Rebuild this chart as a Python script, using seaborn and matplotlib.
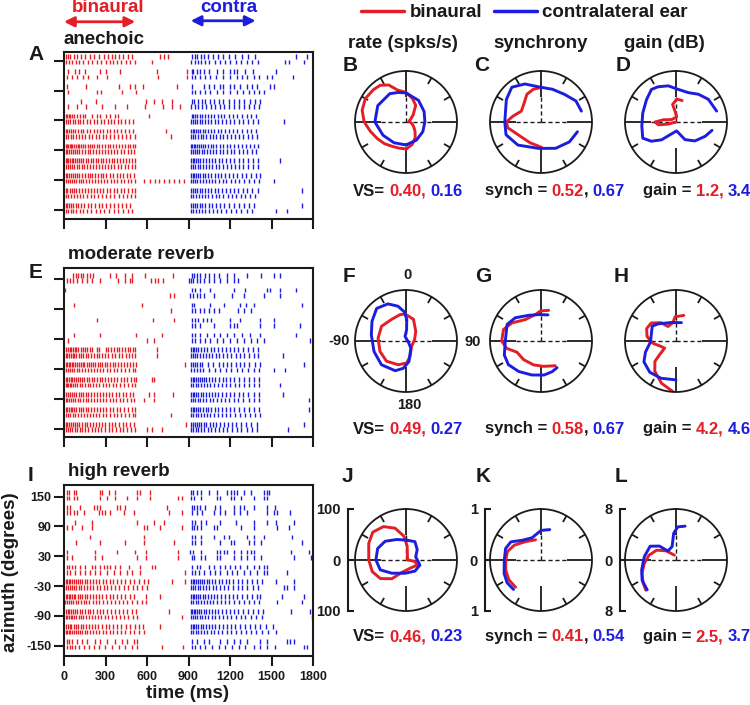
import numpy as np
import pandas as pd
import matplotlib
matplotlib.use("Agg")
import matplotlib.pyplot as plt
from matplotlib.lines import Line2D
from matplotlib.offsetbox import TextArea, HPacker, AnnotationBbox
import seaborn as sns

RED = "#e41e26"
BLUE = "#1d1de0"

AZIMUTHS = [150, 120, 90, 60, 30, 0, -30, -60, -90, -120, -150]
AZ_TICKS = [150, 90, 30, -30, -90, -150]
TIME_TICKS = [0, 300, 600, 900, 1200, 1500, 1800]

# spike times (ms); two trials per azimuth, top row first
ANE_BIN = [
    [15, 30, 45, 70, 95, 120, 150, 185, 220, 255, 290, 320, 345, 370, 400, 430, 460, 490, 695, 720, 750],
    [15, 35, 60, 85, 110, 140, 170, 200, 235, 265, 300, 330, 355, 385, 415, 445, 480, 510, 635],
    [31, 80, 109, 152, 261, 304, 405, 671, 888],
    [19, 55, 92, 135, 176, 236, 309, 676, 890],
    [19, 159, 400, 478, 514, 569, 816],
    [31, 236, 268, 417, 521],
    [123, 232, 591, 652, 712, 779],
    [27, 92, 159, 273, 369, 454, 586, 719, 779, 840],
    [15, 25, 35, 45, 60, 75, 95, 115, 135, 155, 200, 236, 261, 304, 333, 369, 393, 618],
    [15, 28, 45, 62, 80, 100, 118, 140, 165, 190, 215, 240, 265, 290, 315, 340, 365, 390, 415, 440, 470, 500],
    [15, 25, 38, 50, 65, 80, 100, 120, 140, 165, 190, 215, 240, 260, 285, 310, 335, 360, 385, 410, 440, 470, 500, 736],
    [15, 30, 48, 65, 85, 105, 130, 155, 180, 205, 230, 255, 280, 305, 330, 360, 390, 420, 450, 480, 510, 772],
    [15, 22, 30, 40, 50, 60, 72, 85, 98, 110, 125, 140, 155, 170, 185, 200, 220, 240, 255, 275, 295, 315, 335, 355, 375, 395, 420, 440, 460, 480, 500, 515],
    [15, 25, 35, 48, 62, 78, 95, 112, 130, 150, 170, 190, 210, 230, 250, 272, 295, 318, 340, 362, 385, 410, 435, 460, 485, 505],
    [15, 22, 32, 42, 55, 68, 82, 96, 110, 125, 140, 158, 175, 192, 210, 228, 246, 265, 285, 305, 325, 345, 365, 385, 405, 428, 450, 472, 495, 515],
    [15, 28, 42, 58, 75, 92, 110, 128, 148, 168, 188, 208, 228, 250, 272, 295, 318, 340, 365, 390, 415, 440, 465, 490, 512],
    [15, 25, 38, 52, 66, 80, 96, 112, 130, 150, 170, 188, 205, 225, 245, 265, 285, 305, 330, 355, 380, 405, 430, 455, 480, 505],
    [15, 28, 42, 56, 72, 88, 105, 122, 140, 160, 180, 200, 222, 244, 266, 290, 314, 338, 362, 386, 410, 435, 460, 485, 510, 580, 620, 655, 690, 725, 760, 795, 830, 865],
    [15, 25, 40, 55, 72, 90, 110, 130, 150, 172, 195, 218, 240, 262, 285, 310, 335, 360, 385, 410, 435, 460, 490, 515],
    [15, 32, 50, 70, 92, 115, 140, 165, 192, 220, 248, 276, 305, 335, 365, 395, 425, 455, 485, 510],
    [15, 25, 38, 52, 68, 85, 104, 124, 145, 170, 195, 222, 250, 278, 306, 334, 362, 390, 420, 450, 480],
    [15, 30, 48, 68, 90, 114, 140, 168, 198, 228, 260, 292, 325, 358, 390, 425, 460, 495],
]
ANE_CON = [
    [925, 945, 965, 990, 1015, 1040, 1075, 1110, 1150, 1190, 1235, 1290, 1330, 1380, 1680, 1757],
    [920, 945, 970, 990, 1020, 1050, 1090, 1125, 1165, 1200, 1240, 1280, 1320, 1360, 1400, 1600, 1630, 1735],
    [924, 936, 960, 985, 1009, 1045, 1105, 1153, 1202, 1226, 1250, 1310, 1363, 1535],
    [924, 948, 985, 1021, 1057, 1100, 1149, 1202, 1250, 1286, 1322, 1371, 1407, 1467, 1503, 1655],
    [924, 1009, 1045, 1081, 1129, 1153, 1202, 1226, 1274, 1322, 1358, 1395, 1486, 1515],
    [924, 948, 985, 1021, 1057, 1105, 1153, 1202, 1250, 1293, 1334, 1371, 1407, 1443],
    [924, 941, 972, 997, 1021, 1052, 1081, 1117, 1149, 1190, 1226, 1262, 1298, 1346, 1383, 1414],
    [920, 945, 970, 1000, 1025, 1060, 1090, 1125, 1160, 1195, 1230, 1265, 1300, 1340, 1375, 1410],
    [924, 935, 950, 965, 985, 1000, 1020, 1040, 1060, 1085, 1110, 1135, 1160, 1190, 1220, 1250, 1290, 1320, 1350, 1390],
    [920, 932, 948, 962, 980, 998, 1018, 1040, 1062, 1088, 1115, 1142, 1170, 1200, 1230, 1262, 1295, 1330, 1365, 1400, 1590],
    [920, 930, 942, 955, 970, 985, 1002, 1020, 1040, 1062, 1085, 1110, 1135, 1162, 1190, 1220, 1250, 1285, 1320, 1355, 1390],
    [920, 935, 950, 968, 988, 1008, 1030, 1052, 1075, 1100, 1125, 1150, 1178, 1206, 1235, 1265, 1295, 1328, 1360, 1395],
    [920, 928, 938, 950, 962, 976, 990, 1005, 1022, 1040, 1060, 1080, 1102, 1125, 1150, 1175, 1200, 1228, 1256, 1285, 1315, 1345, 1375, 1405],
    [920, 932, 946, 960, 976, 994, 1012, 1032, 1054, 1076, 1100, 1125, 1150, 1176, 1204, 1232, 1262, 1292, 1324, 1356, 1390],
    [920, 930, 942, 956, 970, 986, 1004, 1024, 1046, 1068, 1092, 1118, 1144, 1172, 1200, 1230, 1262, 1295, 1330, 1365, 1400, 1560],
    [920, 934, 950, 966, 984, 1004, 1025, 1048, 1072, 1096, 1122, 1148, 1176, 1204, 1234, 1264, 1296, 1330, 1365, 1400],
    [920, 930, 942, 955, 970, 986, 1003, 1022, 1042, 1064, 1088, 1112, 1138, 1164, 1192, 1222, 1252, 1284, 1318, 1352, 1390, 1420],
    [920, 934, 948, 964, 982, 1002, 1024, 1046, 1070, 1095, 1120, 1146, 1174, 1204, 1234, 1266, 1300, 1336, 1372, 1408, 1520],
    [920, 932, 946, 962, 980, 1000, 1020, 1042, 1066, 1090, 1115, 1142, 1170, 1198, 1228, 1260, 1292, 1326, 1362, 1400, 1720],
    [920, 936, 954, 974, 996, 1020, 1044, 1070, 1096, 1124, 1152, 1182, 1212, 1244, 1276, 1310, 1345, 1380],
    [920, 932, 946, 962, 980, 1000, 1022, 1046, 1072, 1100, 1130, 1160, 1192, 1226, 1262, 1300, 1340, 1375, 1720],
    [920, 936, 954, 974, 996, 1020, 1046, 1074, 1104, 1136, 1170, 1205, 1242, 1280, 1320, 1360, 1530, 1610],
]

MOD_BIN = [
    [68, 87, 104, 123, 140, 169, 188, 212, 333, 376, 441, 490, 586, 791],
    [19, 43, 68, 96, 128, 164, 200, 261, 393, 441, 478, 490, 627, 659, 683, 719],
    [5],
    [767, 796],
    [72, 562],
    [772],
    [241, 642, 796],
    [],
    [72, 261, 521, 707],
    [31, 598, 652],
    [15, 28, 40, 52, 65, 78, 90, 103, 120, 135, 150, 165, 185, 205, 240, 255, 300, 320, 340, 360, 380, 400, 420, 440, 460, 480, 500, 515, 671],
    [15, 25, 38, 50, 62, 75, 90, 105, 122, 140, 158, 176, 195, 215, 235, 255, 275, 298, 320, 345, 370, 395, 420, 445, 470, 495, 515, 671],
    [15, 24, 34, 45, 56, 68, 80, 93, 106, 120, 134, 148, 163, 178, 194, 210, 226, 243, 260, 278, 296, 314, 333, 352, 372, 392, 412, 433, 455, 477, 500, 518, 876],
    [15, 28, 42, 58, 74, 92, 110, 130, 150, 170, 192, 214, 236, 260, 284, 308, 334, 360, 386, 412, 440, 468, 496, 516],
    [15, 25, 36, 48, 60, 73, 87, 101, 116, 132, 148, 165, 182, 200, 218, 237, 257, 277, 298, 319, 341, 363, 386, 410, 434, 458, 482, 505, 520, 635, 652],
    [15, 22, 30, 40, 52, 65, 80, 96, 113, 131, 150, 170, 190, 211, 233, 256, 279, 303, 328, 353, 379, 405, 432, 460, 488, 512],
    [15, 28, 42, 57, 72, 88, 105, 122, 140, 158, 177, 197, 217, 238, 259, 281, 303, 326, 350, 374, 398, 423, 448, 474, 500, 618, 647, 791],
    [15, 25, 38, 52, 67, 83, 100, 118, 137, 156, 176, 196, 217, 238, 260, 283, 306, 330, 354, 379, 404, 430, 456, 482, 508, 575, 652],
    [15, 24, 35, 47, 60, 74, 89, 105, 122, 140, 158, 177, 197, 218, 239, 261, 284, 307, 331, 356, 381, 407, 434, 461, 488, 512],
    [15, 30, 46, 63, 81, 100, 120, 141, 163, 185, 208, 232, 256, 281, 306, 332, 358, 385, 412, 440, 468, 496, 515, 772],
    [15, 25, 37, 50, 64, 79, 95, 112, 130, 149, 168, 188, 209, 230, 252, 275, 298, 322, 347, 372, 398, 424, 451, 478, 505, 883],
    [15, 28, 43, 59, 76, 94, 113, 133, 154, 176, 199, 222, 246, 271, 296, 322, 348, 375, 402, 430, 458, 486, 510, 598, 635, 707],
]
MOD_CON = [
    [924, 941, 960, 985, 1021, 1045, 1081, 1117, 1178, 1226, 1322, 1423, 1515, 1564],
    [900, 917, 936, 960, 985, 1009, 1045, 1081, 1129, 1178, 1226, 1255],
    [924, 948, 985, 1057, 1226, 1310, 1467, 1491, 1564, 1680],
    [912, 931, 960, 985, 1009, 1081, 1214, 1303, 1443, 1564],
    [924, 941, 1057, 1158, 1274, 1313, 1371, 1720],
    [924, 948, 985, 1013, 1045, 1081, 1117, 1255, 1298, 1351],
    [924, 948, 972, 1004, 1033, 1062, 1202, 1274, 1419, 1520],
    [924, 948, 985, 1081, 1202, 1226, 1250, 1419, 1515, 1708],
    [924, 948, 985, 1033, 1081, 1129, 1178, 1226, 1286, 1346, 1419, 1680],
    [924, 948, 985, 1021, 1057, 1105, 1153, 1202, 1250, 1298, 1351, 1395, 1443, 1781],
    [920, 930, 942, 955, 970, 990, 1010, 1035, 1060, 1085, 1110, 1140, 1170, 1200, 1230, 1260, 1295, 1330, 1365, 1400],
    [920, 934, 948, 964, 982, 1002, 1024, 1048, 1072, 1098, 1124, 1152, 1180, 1210, 1240, 1272, 1304, 1338, 1372, 1405, 1583],
    [920, 935, 948, 962, 980, 1000, 1040, 1080, 1120, 1150, 1180, 1210, 1240, 1270, 1300, 1340, 1380, 1420, 1737],
    [920, 940, 965, 985, 1005, 1050, 1090, 1130, 1170, 1210, 1250, 1290, 1330, 1370, 1410, 1520, 1595],
    [920, 930, 941, 953, 966, 980, 995, 1012, 1030, 1050, 1072, 1095, 1120, 1146, 1174, 1202, 1232, 1264, 1298, 1334, 1372, 1410],
    [920, 936, 953, 971, 991, 1012, 1035, 1059, 1085, 1112, 1140, 1170, 1201, 1233, 1267, 1302, 1338, 1376, 1410, 1560],
    [920, 931, 943, 956, 971, 987, 1005, 1024, 1045, 1067, 1091, 1116, 1143, 1171, 1200, 1231, 1263, 1297, 1333, 1370, 1408, 1583],
    [920, 934, 950, 967, 986, 1006, 1028, 1052, 1077, 1104, 1132, 1162, 1193, 1226, 1260, 1296, 1334, 1373, 1412, 1770],
    [920, 930, 942, 955, 970, 986, 1004, 1023, 1044, 1066, 1090, 1115, 1142, 1170, 1200, 1231, 1264, 1298, 1334, 1372, 1410, 1770],
    [920, 935, 951, 969, 989, 1010, 1033, 1057, 1083, 1110, 1139, 1169, 1201, 1234, 1269, 1305, 1343, 1382, 1418],
    [920, 931, 944, 958, 974, 991, 1010, 1030, 1052, 1075, 1100, 1126, 1154, 1183, 1214, 1246, 1280, 1316, 1353, 1392, 1737],
    [920, 936, 953, 972, 993, 1015, 1039, 1064, 1091, 1119, 1149, 1180, 1213, 1247, 1283, 1320, 1358, 1398, 1617],
]

HIGH_BIN = [
    [22, 34, 70, 89, 263, 275, 323, 371, 528, 547, 625],
    [22, 34, 70, 94, 263, 311, 371, 455, 528, 619, 827, 851],
    [22, 46, 118, 214, 239, 263, 383, 407, 443, 745],
    [22, 46, 70, 94, 142, 251, 275, 299, 335, 431, 504, 757, 853],
    [82, 203, 528, 649, 721],
    [22, 58, 130, 203, 576, 600, 696, 851],
    [186, 576],
    [89, 263, 443, 576, 793],
    [22, 227, 383, 515, 595, 827],
    [22, 58, 227, 275, 528, 595, 827],
    [22, 34, 58, 82, 118, 154, 203, 227, 263, 287, 311, 335, 371, 407, 467, 552, 636, 660],
    [22, 46, 82, 118, 154, 190, 227, 263, 311, 359, 407, 455, 491, 552, 875],
    [15, 24, 34, 45, 57, 70, 84, 99, 115, 132, 150, 169, 189, 210, 232, 255, 279, 304, 330, 357, 385, 414, 444, 474, 505, 540, 575, 610, 780, 876],
    [15, 27, 41, 56, 72, 89, 107, 126, 146, 167, 189, 212, 236, 261, 287, 314, 342, 371, 401, 432, 464, 497, 530, 565, 600],
    [15, 23, 33, 44, 56, 69, 83, 98, 114, 131, 149, 168, 188, 209, 231, 254, 278, 303, 329, 356, 384, 413, 443, 474, 505, 595, 696],
    [10, 22, 36, 51, 67, 84, 102, 121, 141, 162, 184, 207, 231, 256, 282, 309, 337, 366, 396, 427, 459, 492, 525, 565, 590],
    [15, 26, 38, 51, 65, 80, 96, 113, 131, 150, 170, 191, 213, 236, 260, 285, 311, 338, 366, 395, 425, 456, 488, 520, 757],
    [15, 24, 35, 47, 60, 74, 89, 105, 122, 140, 159, 179, 200, 222, 245, 269, 294, 320, 347, 375, 404, 434, 465, 497, 525, 851],
    [15, 27, 40, 54, 69, 85, 102, 120, 139, 159, 180, 202, 225, 249, 274, 300, 327, 355, 384, 414, 445, 477, 510, 540, 570, 696],
    [15, 24, 34, 45, 57, 70, 84, 99, 115, 132, 150, 169, 189, 210, 232, 255, 279, 304, 330, 357, 385, 414, 444, 475, 508, 540, 575],
    [22, 34, 58, 94, 130, 166, 227, 263, 311, 371, 419, 455, 504, 528],
    [22, 40, 58, 82, 106, 142, 178, 214, 251, 299, 347, 395, 443, 491, 528, 706, 863],
]
HIGH_CON = [
    [919, 934, 963, 987, 1047, 1107, 1180, 1204, 1228, 1252, 1300, 1349, 1445, 1469, 1481],
    [919, 938, 987, 1107, 1131, 1204, 1228, 1276, 1373, 1445, 1469],
    [926, 938, 962, 986, 1022, 1094, 1130, 1226, 1275, 1299, 1371, 1468, 1528],
    [926, 962, 998, 1082, 1130, 1166, 1226, 1275, 1323, 1468, 1516, 1540, 1637],
    [926, 950, 987, 1023, 1131, 1240, 1373, 1469, 1529, 1662],
    [926, 938, 963, 987, 1083, 1107, 1276, 1373, 1541, 1626],
    [926, 950, 987, 1083, 1156, 1192, 1324, 1373, 1445, 1650],
    [926, 945, 987, 1131, 1204, 1228, 1337, 1373, 1421, 1722],
    [914, 934, 987, 1107, 1131, 1156, 1180, 1228, 1276, 1324, 1349, 1373, 1638, 1770],
    [926, 938, 987, 1016, 1107, 1131, 1228, 1276, 1324, 1373, 1421, 1662, 1782],
    [926, 962, 986, 1046, 1082, 1130, 1166, 1203, 1239, 1275, 1323, 1371, 1407, 1444, 1468],
    [926, 950, 974, 1010, 1058, 1094, 1130, 1178, 1215, 1251, 1299, 1347, 1395, 1444, 1468, 1612],
    [920, 930, 941, 953, 966, 980, 996, 1013, 1031, 1050, 1071, 1093, 1117, 1142, 1168, 1196, 1225, 1256, 1288, 1322, 1358, 1395, 1430, 1530, 1660],
    [920, 934, 949, 966, 985, 1005, 1027, 1050, 1075, 1101, 1129, 1158, 1189, 1221, 1255, 1290, 1326, 1364, 1400, 1590, 1615, 1660],
    [920, 930, 942, 955, 969, 985, 1002, 1020, 1040, 1061, 1084, 1108, 1134, 1161, 1190, 1220, 1252, 1285, 1320, 1357, 1395, 1420, 1575, 1735],
    [920, 935, 951, 969, 988, 1009, 1031, 1055, 1080, 1107, 1135, 1165, 1196, 1229, 1263, 1299, 1336, 1375, 1410, 1540, 1720],
    [920, 928, 938, 950, 963, 977, 993, 1010, 1028, 1048, 1069, 1092, 1116, 1142, 1169, 1198, 1228, 1260, 1293, 1328, 1364, 1400, 1440, 1640, 1780],
    [920, 933, 948, 964, 982, 1001, 1022, 1044, 1068, 1093, 1120, 1148, 1178, 1209, 1242, 1276, 1312, 1349, 1388, 1428, 1795],
    [920, 930, 942, 956, 971, 988, 1006, 1026, 1047, 1070, 1094, 1120, 1147, 1176, 1206, 1238, 1271, 1306, 1342, 1380, 1420, 1460, 1510],
    [920, 935, 952, 971, 991, 1013, 1036, 1061, 1087, 1115, 1144, 1175, 1207, 1241, 1276, 1313, 1351, 1391, 1432, 1475, 1530],
    [926, 962, 1010, 1046, 1130, 1178, 1226, 1275, 1323, 1420, 1468, 1612, 1637, 1661],
    [926, 950, 986, 1022, 1070, 1118, 1166, 1215, 1263, 1311, 1371, 1420, 1468, 1528, 1733, 1757],
]

# polar tuning curves: azimuth (deg, 0 = up, clockwise) and value, in drawing order
RATE_ANE_BIN_AZ = [-180, -165, -150, -135, -120, -105, -90, -75, -60, -45, -35, -25, -15, 0, 15, 30, 45, 60, 75, 90, 105, 120, 135, 150, 165, 180]
RATE_ANE_BIN = [53, 53, 55, 60, 65, 72, 82, 89, 92, 90, 88, 80, 65, 58, 48, 38, 20, 10, 6, 8, 12, 17, 25, 36, 46, 53]
RATE_ANE_CON_AZ = [-180, -150, -120, -90, -60, -30, -15, 0, 30, 60, 90, 120, 150, 180]
RATE_ANE_CON = [45, 47, 52, 61, 64, 64, 60, 57, 49, 41, 37, 38, 41, 45]
SYNC_ANE_BIN_AZ = [2, -13, -27, -41, -61, -78, -90, -100, -120, -152, -182]
SYNC_ANE_BIN = [0.68, 0.66, 0.61, 0.50, 0.44, 0.56, 0.68, 0.66, 0.51, 0.46, 0.50]
SYNC_ANE_CON_AZ = [75, 59, 40, 19, 0, -23, -40, -57, -90, -110, -135, -175, -209, -235, -255]
SYNC_ANE_CON = [0.82, 0.80, 0.71, 0.68, 0.68, 0.81, 0.89, 0.81, 0.71, 0.73, 0.64, 0.52, 0.59, 0.68, 0.74]
GAIN_ANE_BIN_AZ = [16, 2, -11, -5, 8, -62, -80, -90, -99, -105, 90]
GAIN_ANE_BIN = [3.5, 3.6, 2.8, 1.7, 0.8, 0.8, 2.0, 3.3, 2.8, 1.3, 0.0]
GAIN_ANE_CON_AZ = [75, 55, 39, 23, 1, -12, -27, -37, -53, -75, -97, -116, -128, -141, -155, -184, -207, -225, -244, -257]
GAIN_ANE_CON = [6.6, 6.2, 5.6, 5.0, 5.2, 5.8, 6.2, 6.4, 5.8, 5.4, 5.4, 5.8, 4.9, 3.6, 2.2, 1.4, 3.1, 4.2, 5.1, 5.8]

RATE_MOD_BIN_AZ = [-2, 19, 45, 81, 133, 165, 178, 198, 224, 248, 276, 301, 326, 347, 358]
RATE_MOD_BIN = [53, 45, 27, 17, 15, 31, 43, 49, 55, 55, 55, 56, 51, 53, 53]
RATE_MOD_CON_AZ = [2, 3, -12, 113, 146, 172, 186, 200, 226, 252, 280, 300, 318, 334, 347, 357, 362]
RATE_MOD_CON = [42, 22, 9, 5, 17, 41, 54, 62, 67, 66, 69, 77, 86, 81, 70, 57, 42]
SYNC_MOD_BIN_AZ = [14, -1, -12, -36, -58, -73, -90, -102, -115, -137, -163, -186, -210]
SYNC_MOD_BIN = [0.62, 0.59, 0.53, 0.52, 0.67, 0.77, 0.77, 0.69, 0.52, 0.50, 0.49, 0.50, 0.56]
SYNC_MOD_CON_AZ = [15, -5, -26, -48, -64, -90, -111, -126, -144, -165, -185, -200, -211]
SYNC_MOD_CON = [0.53, 0.52, 0.56, 0.68, 0.74, 0.70, 0.77, 0.79, 0.74, 0.69, 0.67, 0.64, 0.61]
GAIN_MOD_BIN_AZ = [17, -2, -10, -29, -39, -54, -67, -81, -95, -110, -122, -130, -134, -145, -161, -177]
GAIN_MOD_BIN = [4.2, 3.8, 2.9, 2.6, 3.7, 4.8, 5.0, 4.6, 3.7, 2.5, 2.1, 3.4, 4.6, 5.8, 7.0, 8.0]
GAIN_MOD_CON_AZ = [16.5, -14.5, -46.6, -58, -75.6, -92, -110, -123, -140, -158, -180]
GAIN_MOD_CON = [3.0, 3.0, 3.9, 4.4, 4.0, 4.0, 5.1, 6.0, 6.4, 6.3, 6.1]

RATE_HIGH_BIN_AZ = [90, 5, -5, -19, -34, -50, -66, -90, -109, -126, -143, -161, -206, -245, -260, -270]
RATE_HIGH_BIN = [3, 27, 47, 66, 79, 85, 80, 73, 70, 62, 46, 26, 18, 24, 18, 5]
RATE_HIGH_CON_AZ = [2, 26, 47, 72, 110, 141, 184, 227, 249, 270, 292, 312, 336, 362]
RATE_HIGH_CON = [39, 40, 30, 20, 29, 28, 26, 38, 54, 59, 60, 55, 44, 39]
SYNC_HIGH_BIN_AZ = [-15, -40, -61, -76, -90, -106, -122, -137]
SYNC_HIGH_BIN = [0.41, 0.47, 0.60, 0.68, 0.69, 0.72, 0.74, 0.73]
SYNC_HIGH_CON_AZ = [16, 0, -22, -43, -59, -72, -90, -110, -124, -137]
SYNC_HIGH_CON = [0.62, 0.58, 0.47, 0.53, 0.69, 0.73, 0.72, 0.77, 0.80, 0.79]
GAIN_HIGH_BIN_AZ = [-18, -47, -63, -80, -96, -111, -125, -135]
GAIN_HIGH_BIN = [0.8, 2.1, 3.4, 4.3, 5.0, 5.7, 6.3, 6.7]
GAIN_HIGH_CON_AZ = [15, 3, -5, -16, -42, -50, -62, -84, -106, -121, -136]
GAIN_HIGH_CON = [5.5, 5.2, 4.2, 2.2, 1.9, 3.4, 4.6, 5.0, 5.6, 6.2, 6.5]

RMAX = {"rate": 100, "sync": 1, "gain": 8}
STATS = [
    [("VS=", "0.40,", "0.16", RED), ("synch =", "0.52", "0.67", "k"), ("gain =", "1.2,", "3.4", RED)],
    [("VS=", "0.49,", "0.27", RED), ("synch =", "0.58", "0.67", "k"), ("gain =", "4.2,", "4.6", RED)],
    [("VS=", "0.46,", "0.23", RED), ("synch =", "0.41", "0.54", "k"), ("gain =", "2.5,", "3.7", RED)],
]

W, H = 750, 705
sns.set_theme(style="ticks")
plt.rcParams["font.family"] = ["Liberation Sans", "DejaVu Sans"]
plt.rcParams.update({
    "font.weight": "bold", "text.color": "k", "axes.edgecolor": "k",
    "xtick.color": "k", "ytick.color": "k", "axes.unicode_minus": False,
})

fig = plt.figure(figsize=(W / 100, H / 100), dpi=100)


def box(x0, y0, w, h):
    return [x0 / W, 1 - (y0 + h) / H, w / W, h / H]


def px(x, y):
    return x / W, 1 - y / H


def label(x, y, s, size=13.5, **kw):
    kw.setdefault("ha", "center")
    fig.text(*px(x, y), s, fontsize=size, fontweight="bold", va="center", **kw)


def spike_table(bin_rows, con_rows):
    recs = []
    for i, (b, c) in enumerate(zip(bin_rows, con_rows)):
        y = AZIMUTHS[i // 2] + (8.5, -2.5)[i % 2]
        recs += [(t, y, "binaural") for t in b]
        recs += [(t, y, "contra") for t in c]
    return pd.DataFrame(recs, columns=["time", "azimuth", "ear"])


# ---- rasters
raster_specs = [
    (ANE_BIN, ANE_CON, (64, 52, 249, 167), (-169, 168)),
    (MOD_BIN, MOD_CON, (64, 268, 249, 169), (-167, 173)),
    (HIGH_BIN, HIGH_CON, (64, 485, 249, 171), (-171, 173.5)),
]
raster_axes = []
for k, (b, c, rect, ylim) in enumerate(raster_specs):
    ax = fig.add_axes(box(*rect))
    df = spike_table(b, c)
    sns.scatterplot(data=df, x="time", y="azimuth", hue="ear",
                    palette={"binaural": RED, "contra": BLUE},
                    marker="|", s=11, linewidth=1.0, legend=False, ax=ax)
    ax.set_xlim(0, 1800)
    ax.set_ylim(*ylim)
    ax.set_xticks(TIME_TICKS)
    ax.set_yticks(AZ_TICKS)
    ax.set_xlabel("")
    ax.set_ylabel("")
    ax.tick_params(direction="out", length=7, width=1.5, labelsize=9, pad=2)
    for sp in ax.spines.values():
        sp.set_linewidth(1.5)
    if k < 2:
        ax.set_xticklabels([])
        ax.set_yticklabels([])
    else:
        ax.set_yticklabels([str(v) for v in AZ_TICKS])
        ax.tick_params(axis="x", pad=3.5)
    raster_axes.append(ax)

axA = raster_axes[0]
axA.annotate("", xy=(515, 1.181), xytext=(0, 1.181), xycoords=("data", "axes fraction"),
             arrowprops=dict(arrowstyle="<|-|>", color=RED, lw=2, mutation_scale=15,
                             shrinkA=0, shrinkB=0), annotation_clip=False)
axA.annotate("", xy=(1385, 1.187), xytext=(916, 1.187), xycoords=("data", "axes fraction"),
             arrowprops=dict(arrowstyle="<|-|>", color=BLUE, lw=2, mutation_scale=15,
                             shrinkA=0, shrinkB=0), annotation_clip=False)

label(108, 8, "binaural", color=RED)
label(228.5, 7, "contra", color=BLUE)
label(63, 40, "anechoic", ha="left")
label(68, 254, "moderate reverb", ha="left")
label(68, 471, "high reverb", ha="left")
label(11, 572, "azimuth (degrees)", rotation=90)
label(187, 693, "time (ms)")

# ---- polar panels
R = 51
COLS = [406, 541, 676]
ROWS = [122, 341, 560]
polar_data = [
    [("rate", RATE_ANE_BIN_AZ, RATE_ANE_BIN, RATE_ANE_CON_AZ, RATE_ANE_CON),
     ("sync", SYNC_ANE_BIN_AZ, SYNC_ANE_BIN, SYNC_ANE_CON_AZ, SYNC_ANE_CON),
     ("gain", GAIN_ANE_BIN_AZ, GAIN_ANE_BIN, GAIN_ANE_CON_AZ, GAIN_ANE_CON)],
    [("rate", RATE_MOD_BIN_AZ, RATE_MOD_BIN, RATE_MOD_CON_AZ, RATE_MOD_CON),
     ("sync", SYNC_MOD_BIN_AZ, SYNC_MOD_BIN, SYNC_MOD_CON_AZ, SYNC_MOD_CON),
     ("gain", GAIN_MOD_BIN_AZ, GAIN_MOD_BIN, GAIN_MOD_CON_AZ, GAIN_MOD_CON)],
    [("rate", RATE_HIGH_BIN_AZ, RATE_HIGH_BIN, RATE_HIGH_CON_AZ, RATE_HIGH_CON),
     ("sync", SYNC_HIGH_BIN_AZ, SYNC_HIGH_BIN, SYNC_HIGH_CON_AZ, SYNC_HIGH_CON),
     ("gain", GAIN_HIGH_BIN_AZ, GAIN_HIGH_BIN, GAIN_HIGH_CON_AZ, GAIN_HIGH_CON)],
]

for r, row in enumerate(polar_data):
    cy = ROWS[r]
    for c, (kind, baz, bval, caz, cval) in enumerate(row):
        cx = COLS[c]
        rmax = RMAX[kind]
        pax = fig.add_axes(box(cx - R, cy - R, 2 * R, 2 * R), projection="polar")
        pax.set_theta_zero_location("N")
        pax.set_theta_direction(-1)
        for ang in range(0, 360, 30):
            t = np.deg2rad(ang)
            inner = 0.5 if ang % 90 == 0 else 0.86
            pax.plot([t, t], [inner * rmax, rmax], color="k", lw=1.3, solid_capstyle="butt")
        for ang in (0, 90, 270):
            t = np.deg2rad(ang)
            pax.plot([t, t], [0, 0.5 * rmax], color="k", lw=1.0, ls=(0, (3, 2)))
        for az, val, col in ((baz, bval, RED), (caz, cval, BLUE)):
            sns.lineplot(x=np.deg2rad(az), y=val, sort=False, estimator=None,
                         color=col, lw=2.1, solid_joinstyle="round",
                         solid_capstyle="round", ax=pax)
        pax.set_ylim(0, rmax)
        pax.set_xticks([])
        pax.set_yticks([])
        pax.grid(False)
        pax.set_xlabel("")
        pax.set_ylabel("")
        pax.spines["polar"].set_linewidth(1.3)
        pax.spines["polar"].set_color("k")

        if r == 2:
            bar_x = cx - R - 5 - (2 if c == 0 else 0)
            sax = fig.add_axes(box(bar_x, cy - R, 6, 2 * R))
            sax.set_ylim(-rmax, rmax)
            sax.set_yticks([-rmax, 0, rmax])
            sax.set_yticklabels([str(rmax), "0", str(rmax)])
            sax.set_xticks([])
            for side in ("top", "right", "bottom"):
                sax.spines[side].set_visible(False)
            sax.spines["left"].set_linewidth(1.5)
            sax.tick_params(axis="y", direction="in", length=4.5, width=1.5,
                            labelsize=10.5, pad=5)
            sax.patch.set_alpha(0)

# multicolour stat lines under each circle
STAT_LEFT = [353, 485, 643]
STAT_Y = [191, 429, 636.5]
for r, row in enumerate(STATS):
    for c, (head, v1, v2, comma_col) in enumerate(row):
        tp = dict(fontsize=12, fontweight="bold")
        first = TextArea(v1, textprops=dict(color=RED, **tp))
        if comma_col != RED:
            first = HPacker(children=[first, TextArea(",", textprops=dict(color="k", **tp))],
                            align="baseline", pad=0, sep=0)
        pack = HPacker(children=[TextArea(head, textprops=dict(color="k", **tp)), first,
                                 TextArea(v2, textprops=dict(color=BLUE, **tp))],
                       align="baseline", pad=0, sep=3.0)
        ab = AnnotationBbox(pack, (STAT_LEFT[c], H - STAT_Y[r]), xycoords="figure pixels",
                            box_alignment=(0, 0.5), frameon=False, pad=0)
        fig.add_artist(ab)

# column titles, angle labels, panel letters
label(403, 43, "rate (spks/s)")
label(541, 43, "synchrony")
label(664.5, 43, "gain (dB)")
label(407, 275, "0", size=10.5)
label(350, 341, "-90", size=10.5, ha="right")
label(472.5, 342, "90", size=10.5)
label(409.5, 405, "180", size=10.5)

for x, y, s in [(36, 55, "A"), (350.5, 65.5, "B"), (481.5, 65.5, "C"), (623.5, 65.5, "D"),
                (35.5, 272.5, "E"), (348.5, 277, "F"), (483, 277, "G"), (621.5, 277, "H"),
                (30.5, 475.5, "I"), (347.5, 476.5, "J"), (483, 476.5, "K"), (621, 476.5, "L")]:
    label(x, y, s, size=15)

handles = [Line2D([], [], color=RED, lw=2.5), Line2D([], [], color=BLUE, lw=2.5)]
fig.legend(handles, ["binaural", "contralateral ear"], loc="center",
           bbox_to_anchor=px(524.5, 12.5), ncol=2, frameon=False,
           handlelength=2.3, handletextpad=0.3, columnspacing=0.6,
           borderaxespad=0, borderpad=0, prop={"size": 13.5, "weight": "bold"})

fig.savefig("out.png", dpi=100)
